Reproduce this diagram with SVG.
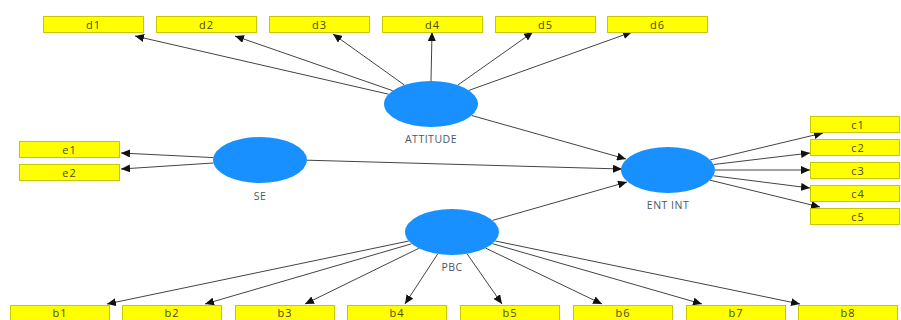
<svg xmlns="http://www.w3.org/2000/svg" width="901" height="320" viewBox="0 0 901 320">
<defs>
<marker id="ah" markerWidth="10" markerHeight="8" refX="9" refY="4" orient="auto" markerUnits="userSpaceOnUse">
<path d="M0,0 L9,4 L0,8 z" fill="#111"/>
</marker>
<style>
.box{fill:#ffff00;stroke:#c8c800;stroke-width:1}
.bl{font-family:"Open Sans","DejaVu Sans",sans-serif;font-size:11px;fill:#4a4a10;text-anchor:middle;letter-spacing:1px}
.lv{fill:#1890ff}
.ll{font-family:"Open Sans","DejaVu Sans",sans-serif;font-size:10.5px;fill:#4a5566;text-anchor:middle;letter-spacing:0.5px}
.cn line{stroke:#444;stroke-width:1;marker-end:url(#ah)}
</style>
</defs>
<rect width="901" height="320" fill="#ffffff"/>
<g class="cn" id="connectors">
<line x1="388.5" y1="94.2" x2="135" y2="36"/>
<line x1="392.7" y1="90.7" x2="235" y2="36"/>
<line x1="404.4" y1="85" x2="333" y2="34"/>
<line x1="431" y1="81" x2="432" y2="32"/>
<line x1="457.8" y1="85.1" x2="533" y2="32"/>
<line x1="468.9" y1="90.4" x2="632" y2="32"/>
<line x1="471.7" y1="115.5" x2="626" y2="159"/>
<line x1="213.3" y1="157.6" x2="121" y2="153"/>
<line x1="213.4" y1="163" x2="121" y2="169"/>
<line x1="307" y1="160.2" x2="622" y2="169"/>
<line x1="492.6" y1="220.4" x2="627" y2="182"/>
<line x1="710.2" y1="159.9" x2="823" y2="133"/>
<line x1="713.7" y1="164.5" x2="810" y2="153"/>
<line x1="715" y1="170" x2="810" y2="170"/>
<line x1="713.5" y1="175.8" x2="810" y2="188"/>
<line x1="710.1" y1="180.2" x2="820" y2="207"/>
<line x1="408.8" y1="241" x2="107" y2="304"/>
<line x1="411.6" y1="243.8" x2="205" y2="304"/>
<line x1="418.8" y1="248.3" x2="305" y2="304"/>
<line x1="437.7" y1="253.9" x2="405" y2="304"/>
<line x1="467.1" y1="253.8" x2="502" y2="304"/>
<line x1="485.6" y1="248.1" x2="602" y2="304"/>
<line x1="492.5" y1="243.7" x2="702" y2="304"/>
<line x1="495.3" y1="241" x2="800" y2="304"/>
</g>
<g id="ATTITUDE"><ellipse class="lv" cx="431" cy="104" rx="47" ry="23"/><text class="ll" x="431" y="143">ATTITUDE</text></g>
<g id="SE"><ellipse class="lv" cx="260" cy="160" rx="47" ry="23"/><text class="ll" x="260" y="200">SE</text></g>
<g id="ENTINT"><ellipse class="lv" cx="668" cy="170" rx="47" ry="23"/><text class="ll" x="668" y="209">ENT INT</text></g>
<g id="PBC"><ellipse class="lv" cx="452" cy="232" rx="47" ry="23"/><text class="ll" x="452" y="271">PBC</text></g>
<g id="d1"><rect class="box" x="43.5" y="16.5" width="100" height="16"/><text class="bl" x="93.5" y="28.5">d1</text></g>
<g id="d2"><rect class="box" x="156.5" y="16.5" width="100" height="16"/><text class="bl" x="206.5" y="28.5">d2</text></g>
<g id="d3"><rect class="box" x="269.5" y="16.5" width="100" height="16"/><text class="bl" x="319.5" y="28.5">d3</text></g>
<g id="d4"><rect class="box" x="382.5" y="16.5" width="100" height="16"/><text class="bl" x="432.5" y="28.5">d4</text></g>
<g id="d5"><rect class="box" x="495.5" y="16.5" width="100" height="16"/><text class="bl" x="545.5" y="28.5">d5</text></g>
<g id="d6"><rect class="box" x="607.5" y="16.5" width="100" height="16"/><text class="bl" x="657.5" y="28.5">d6</text></g>
<g id="e1"><rect class="box" x="19.5" y="141.5" width="100" height="16"/><text class="bl" x="69.5" y="153.5">e1</text></g>
<g id="e2"><rect class="box" x="19.5" y="164.5" width="100" height="16"/><text class="bl" x="69.5" y="176.5">e2</text></g>
<g id="c1"><rect class="box" x="810.5" y="116.5" width="89" height="16"/><text class="bl" x="858" y="128.5">c1</text></g>
<g id="c2"><rect class="box" x="810.5" y="139.5" width="89" height="16"/><text class="bl" x="858" y="151.5">c2</text></g>
<g id="c3"><rect class="box" x="810.5" y="162.5" width="89" height="16"/><text class="bl" x="858" y="174.5">c3</text></g>
<g id="c4"><rect class="box" x="810.5" y="185.5" width="89" height="16"/><text class="bl" x="858" y="197.5">c4</text></g>
<g id="c5"><rect class="box" x="810.5" y="208.5" width="89" height="16"/><text class="bl" x="858" y="220.5">c5</text></g>
<g id="b1"><rect class="box" x="10.5" y="305.5" width="99" height="16"/><text class="bl" x="60" y="317">b1</text></g>
<g id="b2"><rect class="box" x="122.5" y="305.5" width="99" height="16"/><text class="bl" x="172" y="317">b2</text></g>
<g id="b3"><rect class="box" x="235.5" y="305.5" width="99" height="16"/><text class="bl" x="285" y="317">b3</text></g>
<g id="b4"><rect class="box" x="347.5" y="305.5" width="99" height="16"/><text class="bl" x="397" y="317">b4</text></g>
<g id="b5"><rect class="box" x="460.5" y="305.5" width="99" height="16"/><text class="bl" x="510" y="317">b5</text></g>
<g id="b6"><rect class="box" x="573.5" y="305.5" width="99" height="16"/><text class="bl" x="623" y="317">b6</text></g>
<g id="b7"><rect class="box" x="686.5" y="305.5" width="99" height="16"/><text class="bl" x="736" y="317">b7</text></g>
<g id="b8"><rect class="box" x="798.5" y="305.5" width="99" height="16"/><text class="bl" x="848" y="317">b8</text></g>
</svg>
